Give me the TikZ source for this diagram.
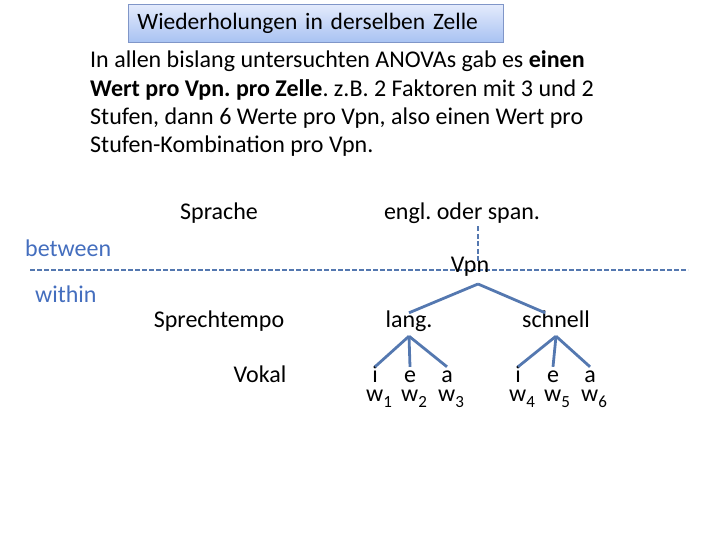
\documentclass[tikz,border=0pt]{standalone}
\usepackage{fontspec}
\setmainfont{Carlito}
\frenchspacing
\definecolor{treeblue}{RGB}{84,120,176}
\definecolor{sideblue}{RGB}{68,110,190}
\definecolor{boxline}{RGB}{128,150,200}
\definecolor{boxtop}{RGB}{228,235,252}
\definecolor{boxbot}{RGB}{168,194,242}
\newcommand{\wsub}[1]{w\raisebox{-6pt}{\fontsize{17}{17}\selectfont #1}}

\begin{document}
\begin{tikzpicture}[x=1pt, y=-1pt,
        every node/.style={font=\fontsize{24}{29}\selectfont},
        titlebox/.style={
            draw=boxline, line width=0.8pt, top color=boxtop, bottom color=boxbot,
            minimum width=375pt, minimum height=38pt, text width=357pt,
            inner xsep=9pt, align=left, font=\fontsize{23.5}{28}\selectfont
        },
        body/.style={align=left, inner sep=0pt, font=\fontsize{24}{28.4}\selectfont},
        lbl/.style ={anchor=base, inner sep=3pt},
        side/.style={lbl, anchor=base west, inner sep=0pt, text=sideblue},
        mid/.style ={anchor=base, inner sep=0pt, text height=14pt, text depth=9pt},
        top/.style ={anchor=base, inner sep=0pt, text height=9pt, text depth=12pt},
        leaf/.style={anchor=base, inner sep=0pt, text height=15pt, text depth=0pt},
        wlab/.style={anchor=base, inner sep=0pt},
        branch/.style={draw=treeblue, line width=2.8pt},
        divide/.style={branch, line width=2.6pt, dash pattern=on 5pt off 2pt},
        vdash/.style ={branch, line width=2.4pt, dash pattern=on 5pt off 2.5pt}
    ]
    \useasboundingbox (0,0) rectangle (720,540);

    % heading and text
    \node[titlebox, anchor=north west] (title) at (128,4) {Wiederholungen in derselben Zelle};
    \node[body, anchor=base west] (intro) at (90,153)
        {In allen bislang untersuchten ANOVAs gab es \textbf{einen}\\
         \textbf{Wert pro Vpn. pro Zelle}. z.B. 2 Faktoren mit 3 und 2\\
         Stufen, dann 6 Werte pro Vpn, also einen Wert pro\\
         Stufen-Kombination pro Vpn.};

    % factors
    \node[lbl] (sprache) at (219,219) {Sprache};
    \node[lbl] (engl)    at (462,219) {engl. oder span.};
    \node[lbl] (tempo)   at (219,327) {Sprechtempo};
    \node[lbl] (vokal)   at (260,382) {Vokal};

    \node[side] (between) at (25,256) {between};
    \node[side] (within)  at (35,302) {within};

    % between / within line
    \coordinate (dl)   at (30,270);
    \coordinate (dr)   at (688,270);
    \coordinate (apex) at (478,284);
    \draw[divide] (dl) -- (dr);

    \node[top] (Vpn) at (470,272) {Vpn};
    \draw[vdash] (engl.south -| apex) -- (Vpn.north -| apex);

    % tree
    \node[mid] (lang)    at (409,327) {lang.};
    \node[mid] (schnell) at (556,327) {schnell};
    \draw[branch] (apex) -- (lang.north);
    \draw[branch] (apex) -- (schnell.133);

    \node[leaf] (i1) at (375,382) {i};
    \node[leaf] (e1) at (410,382) {e};
    \node[leaf] (a1) at (447,382) {a};
    \node[leaf] (i2) at (518,382) {i};
    \node[leaf] (e2) at (553,382) {e};
    \node[leaf] (a2) at (590,382) {a};
    \foreach \n in {i1,e1,a1}
        \draw[branch] (lang.south) -- (\n.north);
    \foreach \n in {i2,e2,a2}
        \draw[branch] (schnell.south) -- (\n.north);

    \node[wlab] (w1) at (379,401) {\wsub{1}};
    \node[wlab] (w2) at (414,401) {\wsub{2}};
    \node[wlab] (w3) at (451,401) {\wsub{3}};
    \node[wlab] (w4) at (522,401) {\wsub{4}};
    \node[wlab] (w5) at (557,401) {\wsub{5}};
    \node[wlab] (w6) at (594,401) {\wsub{6}};
\end{tikzpicture}
\end{document}
